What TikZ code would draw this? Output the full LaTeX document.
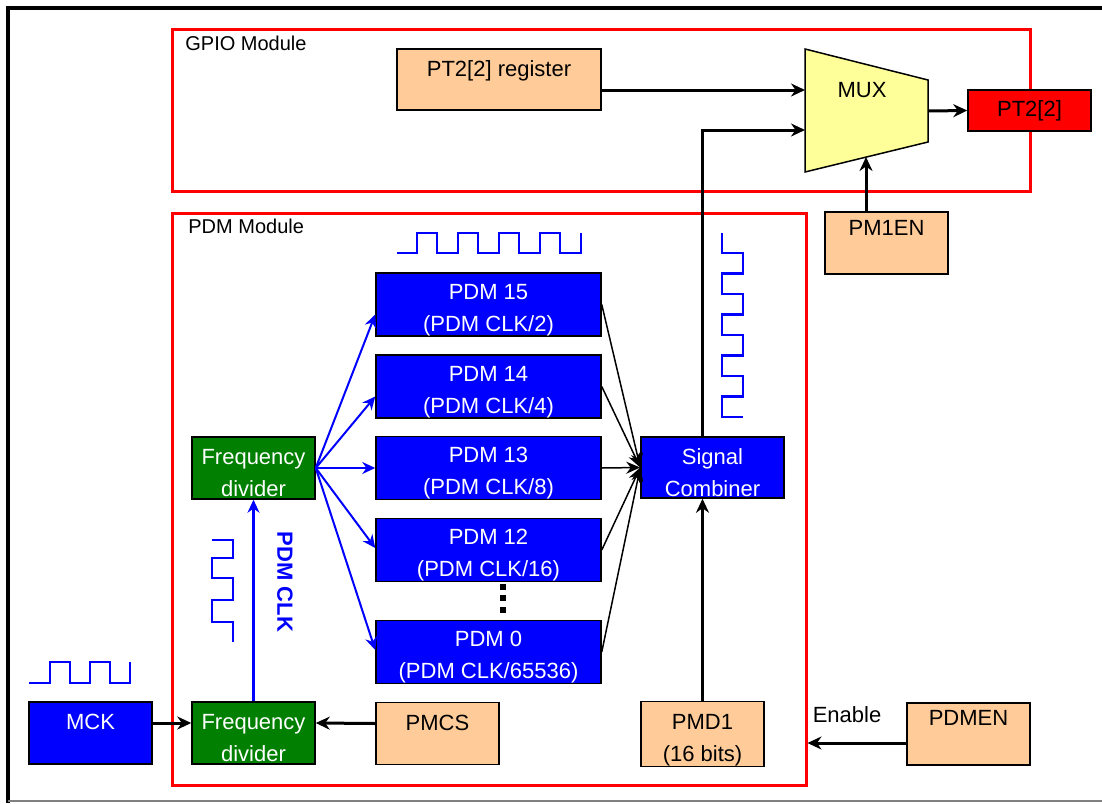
\documentclass[tikz,border=0pt]{standalone}
\usepackage{fontspec}
\setmainfont{Liberation Sans}
\usetikzlibrary{arrows.meta}

\definecolor{peach}{HTML}{FFCC99}
\definecolor{pdmblue}{HTML}{0000FF}
\definecolor{divgreen}{HTML}{007F00}
\definecolor{muxyellow}{HTML}{FFFF99}

\newdimen\pxu \pxu=0.5pt

\tikzset{
  box/.style={draw=black, line width=0.75pt, minimum width=123\pxu, minimum height=62\pxu, inner sep=0pt, align=center},
  twoline/.style={text height=29pt},
  regbox/.style={box, fill=peach},
  blkbox/.style={box, fill=pdmblue, text=white},
  divbox/.style={box, twoline, fill=divgreen, text=white},
  pdmbox/.style={blkbox, twoline, minimum width=225\pxu},
  module/.style={draw=red, line width=1.5pt, inner sep=0pt},
  modlabel/.style={anchor=west, inner sep=0pt, font=\fontsize{10}{12}\selectfont},
  wire/.style={line width=1.5pt, -{Stealth[length=7pt, width=6.5pt]}},
  fan/.style={line width=0.75pt, -{Stealth[length=7pt, width=6pt]}},
  clk/.style={draw=pdmblue, line width=1pt, -{Stealth[length=6.5pt, width=6pt]}},
  wave/.style={draw=pdmblue, line width=1.2pt},
}

\begin{document}
\begin{tikzpicture}[x=0.5pt, y=-0.5pt, font=\fontsize{11}{16}\selectfont]
    \useasboundingbox (0,0) rectangle (1102,803);
    % frame
    \draw [line width=2pt] (1102,8) -- (8,8) -- (8,803);
    \draw [gray, line width=1pt] (8,801) -- (1102,801);

    % modules
    \node [module, minimum width=858\pxu, minimum height=162\pxu] (gpio) at (601, 110) {};
    \node [module, minimum width=634\pxu, minimum height=572\pxu] (pdmmod) at (489, 499) {};
    \node [modlabel] (gpiolbl) at (185, 43) {GPIO Module};
    \node [modlabel] (pdmlbl) at (188, 226) {PDM Module};

    % gpio side
    \node [regbox, minimum width=204\pxu, minimum height=61\pxu,
           label={[anchor=north, yshift=-2.5pt]north:{PT2[2] register}}] (ptreg) at (499, 79.5) {};
    \coordinate (muxtl) at (805, 49);
    \coordinate (muxtr) at (928, 80);
    \coordinate (muxbr) at (928, 142);
    \coordinate (muxbl) at (805, 172);
    \draw [fill=muxyellow, line width=0.75pt] (muxtl) -- (muxtr) -- (muxbr) -- (muxbl) -- cycle;
    \node (mux) at (862, 90) {MUX};
    \coordinate (muxa) at (805, 90);
    \coordinate (muxb) at (805, 130);
    \coordinate (muxsel) at (866, 157);
    \coordinate (muxout) at (928, 111);
    \node [box, fill=red, minimum height=41\pxu] (pt22) at (1029.5, 110.5) {PT2[2]};
    \node [regbox, label={[anchor=north, yshift=-1pt]north:PM1EN}] (pm1en) at (886.5, 243) {};

    % pdm side
    \node [pdmbox] (p15) at (488.5, 304.5) {PDM 15\\(PDM CLK/2)};
    \node [pdmbox] (p14) at (488.5, 386.5) {PDM 14\\(PDM CLK/4)};
    \node [pdmbox] (p13) at (488.5, 468) {PDM 13\\(PDM CLK/8)};
    \node [pdmbox] (p12) at (488.5, 550) {PDM 12\\(PDM CLK/16)};
    \node [pdmbox] (p0) at (488.5, 652) {PDM 0\\(PDM CLK/65536)};
    \foreach \y in {584, 595, 607}
        \fill (500,\y) rectangle ++(6,6);
    \node [blkbox, twoline, minimum width=143\pxu, minimum height=61\pxu] (sc) at (712.5, 467.5) {Signal\\Combiner};
    \node [divbox] (fdt) at (253.5, 468) {Frequency\\divider};
    \node [divbox] (fdb) at (253.5, 733) {Frequency\\divider};
    \node [blkbox, label={[anchor=north, yshift=-3pt, text=white]north:MCK}] (mck) at (90.5, 733) {};
    \node [regbox, label={[anchor=north, yshift=-3pt]north:PMCS}] (pmcs) at (437.5, 733.5) {};
    \node [regbox, text height=30pt] (pmd1) at (702.5, 734) {PMD1\\(16 bits)};
    \node [regbox, label={[anchor=north, yshift=-0.5pt]north:PDMEN}] (pdmen) at (968.5, 734) {};
    \node [rotate=-90, text=pdmblue, font=\fontsize{11}{16}\selectfont\bfseries] (clklbl) at (285, 582) {PDM CLK};

    % waveforms
    \draw [wave] (29,683) -- ++(21,0) -- ++(0,-21) -- ++(20,0) -- ++(0,21) -- ++(20,0)
        -- ++(0,-21) -- ++(20,0) -- ++(0,21) -- ++(20,0) -- ++(0,-21);
    \draw [wave] (397,253) -- ++(20,0) foreach \i in {1,...,4} {
        -- ++(0,-20) -- ++(20,0) -- ++(0,20) -- ++(21,0) } -- ++(0,-20);
    \draw [wave] (722,233) -- ++(0,20) foreach \i in {1,...,4} {
        -- ++(21,0) -- ++(0,20.5) -- ++(-21,0) -- ++(0,20.5) } -- ++(21,0);
    \draw [wave] (212,540) -- (233,540) -- (233,558) -- (212,558) -- (212,578) -- (233,578)
        -- (233,600) -- (212,600) -- (212,622) -- (233,622) -- (233,642);

    % connections
    \draw [wire] (ptreg.east |- muxa) -- (muxa);
    \draw [wire] (sc.north -| pmd1) |- (muxb);
    \draw [wire] (muxout) -- (pt22.west);
    \draw [wire] (pm1en.north -| muxsel) -- (muxsel);
    \draw [wire] (pmd1.north) -- (sc.south -| pmd1);
    \draw [wire] ([yshift=5pt]mck.east) -- ([yshift=5pt]fdb.west);
    \draw [wire] ([yshift=5pt]pmcs.west) -- ([yshift=5pt]fdb.east);
    \draw [wire] ([yshift=-4.5pt]pdmen.west) -- ([yshift=-4.5pt]pdmen.west -| pdmmod.east)
        node [pos=0.6, above=9.5pt, inner sep=0pt] (enable) {Enable};
    \draw [clk, line width=1.5pt] (fdb.north) -- (fdt.south);
    \foreach \p/\s in {p15/-5pt, p14/-5pt, p13/0pt, p12/1pt, p0/1pt}
        \draw [clk] (fdt.east) -- ([yshift=\s]\p.west);
    \foreach \p in {p15, p14, p13, p12, p0}
        \draw [fan] (\p.east) -- (sc.west);
\end{tikzpicture}
\end{document}
